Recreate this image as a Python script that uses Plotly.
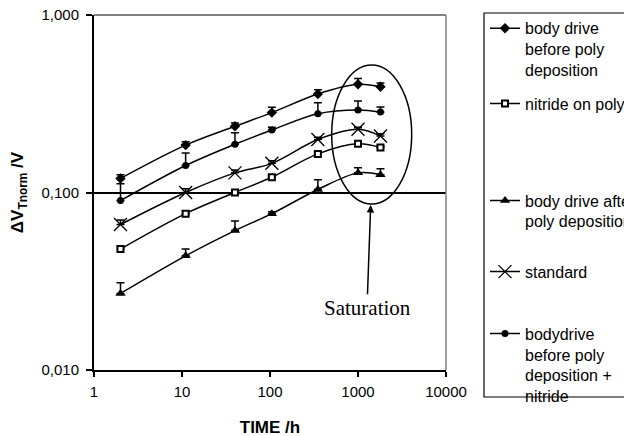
import plotly.graph_objects as go

# ---- data ----
time_h = [2, 11, 40, 105, 350, 1000, 1800]

names = [
    "body drive<br>before poly<br>deposition",
    "nitride on poly",
    "body drive after<br>poly deposition",
    "standard",
    "bodydrive<br>before poly<br>deposition +<br>nitride",
]
body_before = [0.120, 0.185, 0.236, 0.282, 0.359, 0.407, 0.394]
body_before_err = [0.006, 0.008, 0.010, 0.020, 0.020, 0.032, 0.020]

nitride_on_poly = [0.048, 0.076, 0.100, 0.122, 0.165, 0.188, 0.179]
nitride_on_poly_err = [0.002, 0.003, 0.003, 0.003, 0.004, 0.004, 0.004]

body_after = [0.027, 0.044, 0.061, 0.076, 0.104, 0.129, 0.126]
body_after_err = [0.004, 0.004, 0.008, 0.002, 0.014, 0.009, 0.010]

standard = [0.066, 0.100, 0.129, 0.146, 0.199, 0.227, 0.208]
standard_err = [0.004, 0.005, 0.005, 0.005, 0.006, 0.006, 0.006]

body_nitride = [0.090, 0.142, 0.187, 0.225, 0.278, 0.292, 0.284]
body_nitride_err = [0.022, 0.025, 0.030, 0.008, 0.042, 0.036, 0.019]

x_tickvals = [1, 10, 100, 1000, 10000]
x_ticktext = ["1", "10", "100", "1000", "10000"]
y_tickvals = [0.01, 0.1, 1]
y_ticktext = ["0,010", "0,100", "1,000"]

series = [
    (names[0], body_before, body_before_err, dict(symbol="diamond", size=8, color="black"), "legend"),
    (names[1], nitride_on_poly, nitride_on_poly_err, dict(symbol="square", size=6, color="white", line=dict(color="black", width=2)), "legend2"),
    (names[2], body_after, body_after_err, dict(symbol="triangle-up", size=9, color="black"), "legend3"),
    (names[3], standard, standard_err, dict(symbol="x-thin", size=13, color="black", line=dict(color="black", width=1.3)), "legend4"),
    (names[4], body_nitride, body_nitride_err, dict(symbol="circle", size=7, color="black"), "legend5"),
]

FONT = "Liberation Sans, Arial, sans-serif"

fig = go.Figure()
for name, vals, err, marker, leg in series:
    fig.add_trace(go.Scatter(
        x=time_h, y=vals, name=name, mode="lines+markers",
        line=dict(color="black", width=1.5, shape="spline"),
        marker=marker,
        error_y=dict(type="data", symmetric=False, array=err,
                     arrayminus=[0] * len(err), color="black",
                     thickness=1.5, width=4),
        legend=leg,
    ))

# plot area in reference pixels: x 94..446, y 15..370 (page has an 8px body offset)
W, H = 632, 436
OFF = 8
L, R, T, B = 94, 446, 15, 370

def py(px):
    return (B - px) / (B - T)

def px_(x):
    return (x - L) / (R - L)

leg_common = dict(xanchor="left", yanchor="top", valign="top",
                  bgcolor="rgba(0,0,0,0)", borderwidth=0,
                  font=dict(family=FONT, size=16, color="black"),
                  x=px_(485))
first_line = [27.3, 102.7, 199.5, 270.7, 332.7]
legends = {}
for i, c in enumerate(first_line):
    key = "legend" if i == 0 else f"legend{i+1}"
    legends[key] = dict(leg_common, y=py(c - 16))

fig.update_layout(
    width=W, height=H,
    margin=dict(l=L - OFF, r=W - (R - OFF), t=T - OFF, b=H - (B - OFF), autoexpand=False),
    paper_bgcolor="white", plot_bgcolor="white",
    font=dict(family=FONT, size=15, color="black"),
    showlegend=True,
    xaxis=dict(type="log", range=[0, 4], tickvals=x_tickvals, ticktext=x_ticktext,
               showgrid=False, showline=True, linecolor="black", linewidth=2,
               ticks="outside", ticklen=5, tickwidth=1.5, tickcolor="black",
               zeroline=False, ticklabelstandoff=2, ticklabeloverflow="allow",
               title=dict(text="<b>TIME /h</b>", font=dict(family=FONT, size=17), standoff=22)),
    yaxis=dict(type="log", range=[-2, 0], tickvals=y_tickvals, ticktext=y_ticktext,
               showgrid=True, gridcolor="black", gridwidth=1.5,
               showline=True, linecolor="black", linewidth=2,
               ticks="outside", ticklen=6, tickwidth=1.5, tickcolor="black",
               zeroline=False, ticklabelstandoff=4, ticklabeloverflow="allow",
               title=dict(text="<b>ΔV<sub>Tnorm</sub> /V</b>", font=dict(family=FONT, size=17), standoff=18)),
    shapes=[
        # grey plot-area frame (top & right)
        dict(type="line", xref="paper", yref="paper", x0=0, x1=1, y0=1, y1=1,
             line=dict(color="#808080", width=2), layer="above"),
        dict(type="line", xref="paper", yref="paper", x0=1, x1=1, y0=0, y1=1,
             line=dict(color="#808080", width=1.5), layer="above"),
        # saturation ellipse
        dict(type="circle", xref="paper", yref="paper",
             x0=px_(331.7), x1=px_(411.7), y0=py(204), y1=py(65),
             line=dict(color="black", width=1.5)),
        # legend box
        dict(type="rect", xref="paper", yref="paper",
             x0=px_(484), x1=px_(660), y0=py(397), y1=py(13),
             line=dict(color="black", width=1.2)),
    ],
    annotations=[
        dict(xref="paper", yref="paper", x=px_(370.7), y=py(205),
             text="Saturation", showarrow=True, arrowhead=2, arrowsize=1,
             arrowwidth=1.5, arrowcolor="black", ax=-3.7, ay=102.7,
             font=dict(family="Liberation Serif, Times New Roman, serif", size=21, color="black")),
    ],
    **legends,
)

fig.write_html("out.html")
